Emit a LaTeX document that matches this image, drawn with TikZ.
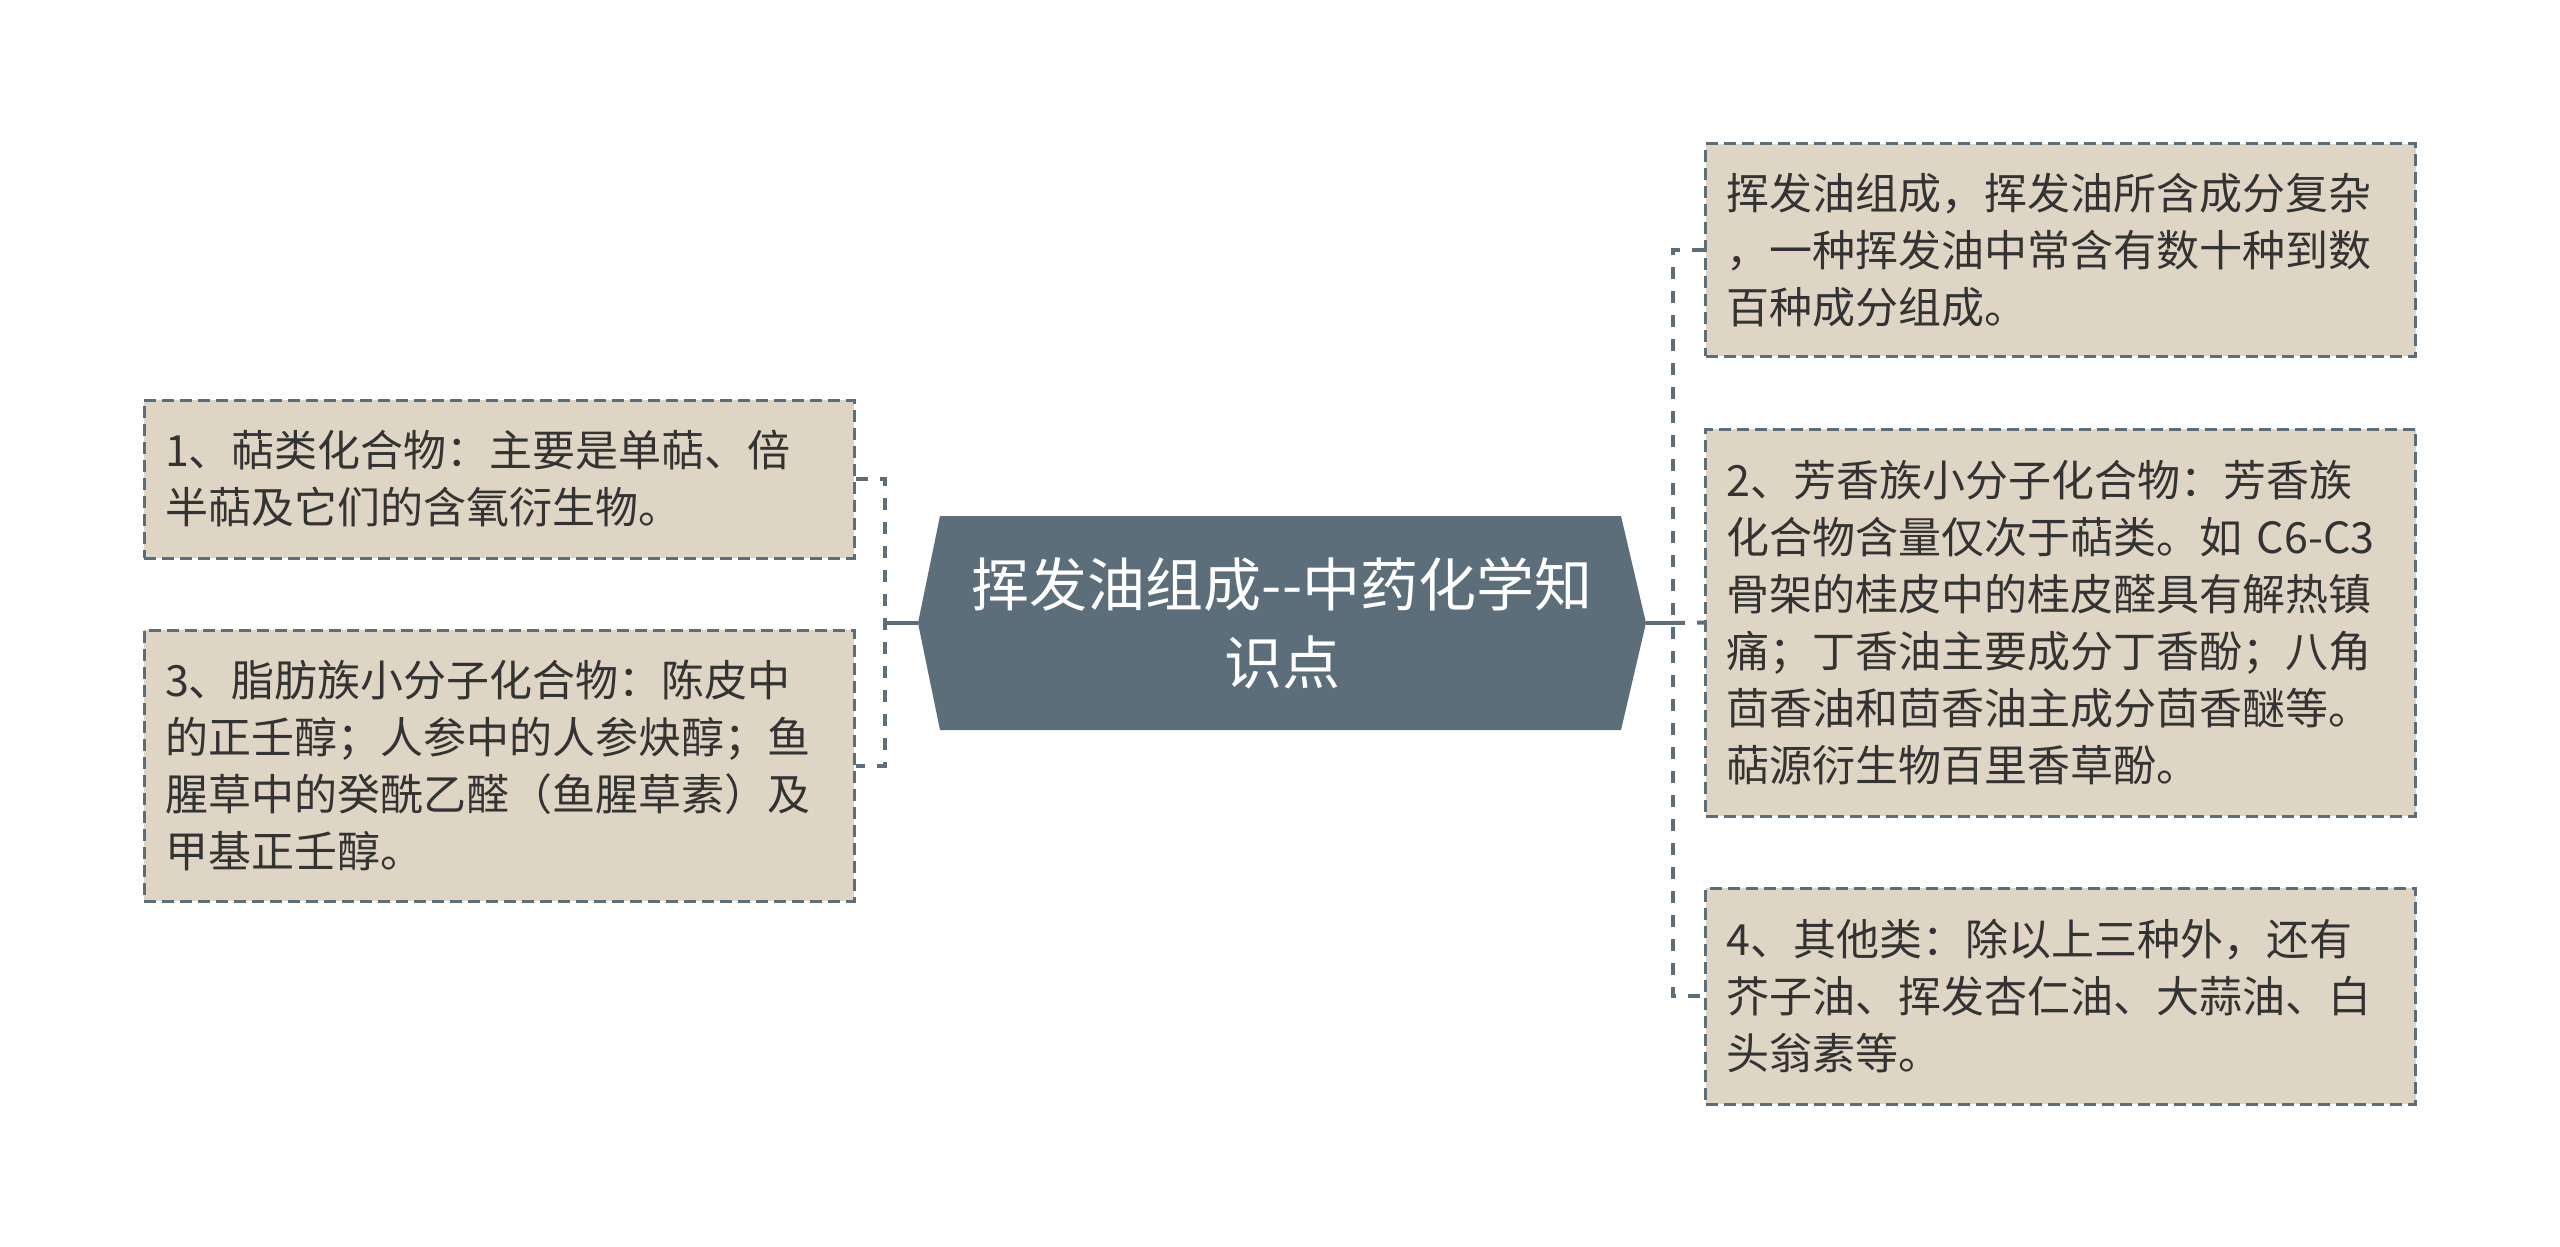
\documentclass[tikz,border=0pt]{standalone}
\usepackage{fontspec}
\newfontfamily\cjk{Noto Sans CJK SC}
\usepackage[usenames]{xcolor}
\usepackage{tikz}

\definecolor{slate}{HTML}{5B6E7A}
\definecolor{paper}{HTML}{DFD5C4}
\definecolor{ink}{HTML}{333333}

\begin{document}
\begin{tikzpicture}[x=0.5pt,y=-0.5pt,
    leaf/.style={draw=slate,line width=1.5pt,dash pattern=on 6pt off 3pt,fill=paper,text=ink,
        font=\cjk\fontsize{21.5}{28.5}\selectfont,align=left,text width=334pt,
        inner xsep=10.5pt,inner ysep=0pt,minimum width=355pt},
    link/.style={draw=slate,line width=2pt,dash pattern=on 6pt off 6pt}]
\useasboundingbox (0,0) rectangle (2560,1247);

    % root
    \fill[slate] (940,516) -- (1621,516) -- (1646,623) -- (1621,730) -- (940,730) -- (918,623) -- cycle;
    \node[text=white,align=center,font=\cjk\fontsize{29}{39}\selectfont] (root) at (1282,623)
        {挥发油组成--中药化学知\\识点};
    \coordinate (rootW) at (918,623);
    \coordinate (rootE) at (1646,623);
    \coordinate (forkL) at (885,623);
    \coordinate (forkR) at (1673,623);

    % left side
    \node[leaf,minimum height=79pt] (terp) at (499,479)
        {1、萜类化合物：主要是单萜、倍\\半萜及它们的含氧衍生物。};
    \node[leaf,minimum height=135.5pt] (fatty) at (499,765.5)
        {3、脂肪族小分子化合物：陈皮中\\的正壬醇；人参中的人参炔醇；鱼\\腥草中的癸酰乙醛（鱼腥草素）及\\甲基正壬醇。};

    % right side
    \node[leaf,minimum height=106pt] (intro) at (2060.5,250)
        {挥发油组成，挥发油所含成分复杂\\，一种挥发油中常含有数十种到数\\百种成分组成。};
    \node[leaf,minimum height=193.5pt] (arom) at (2060.5,622.5)
        {2、芳香族小分子化合物：芳香族\\化合物含量仅次于萜类。如 C6-C3\\骨架的桂皮中的桂皮醛具有解热镇\\痛；丁香油主要成分丁香酚；八角\\茴香油和茴香油主成分茴香醚等。\\萜源衍生物百里香草酚。};
    \node[leaf,minimum height=108pt] (other) at (2060.5,996)
        {4、其他类：除以上三种外，还有\\芥子油、挥发杏仁油、大蒜油、白\\头翁素等。};

    % links
    \draw[slate,line width=2pt] (rootW) -- (forkL);
    \draw[slate,line width=2pt] (rootE) -- (forkR);
    \draw[link] (terp.east) -| (forkL) |- (fatty.east);
    \draw[link] (intro.west) -| (forkR) |- (other.west);
    \draw[link] (forkR) -- (arom.west);

\end{tikzpicture}
\end{document}
